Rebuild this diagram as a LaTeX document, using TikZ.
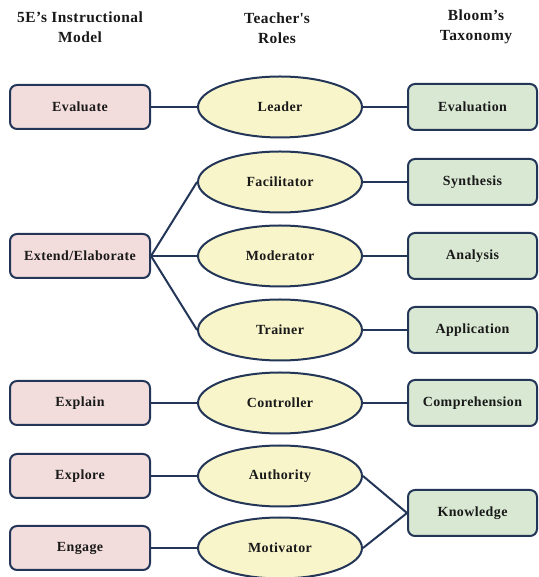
\documentclass[tikz,border=0pt]{standalone}
\usepackage{fontspec}
\setmainfont{Liberation Serif}[LetterSpace=3]
\usepackage{tikz}
\usetikzlibrary{arrows,shapes}

\definecolor{edgecol}{RGB}{36,54,88}
\definecolor{phasecol}{RGB}{242,221,220}
\definecolor{rolecol}{RGB}{249,245,203}
\definecolor{levelcol}{RGB}{217,232,210}

\begin{document}
\begin{tikzpicture}[line join=bevel,
	phase/.style={draw=edgecol,fill=phasecol,line width=2bp,rounded corners=7bp,minimum width=140bp,minimum height=44bp,font=\fontsize{14}{16}\selectfont\bfseries,text=black!90},
	role/.style={draw=edgecol,fill=rolecol,line width=2bp,ellipse,inner sep=0pt,minimum width=164bp,minimum height=61bp,font=\fontsize{14}{16}\selectfont\bfseries,text=black!90},
	level/.style={draw=edgecol,fill=levelcol,line width=2bp,rounded corners=7bp,minimum width=129bp,minimum height=46bp,font=\fontsize{14}{16}\selectfont\bfseries,text=black!90},
	head/.style={align=center,font=\fontsize{15.5}{20}\selectfont\bfseries,text=black!90},
	link/.style={draw=edgecol,line width=2bp}]
	%%
	\useasboundingbox (0bp,0bp) rectangle (539bp,577bp);
	\fill[white] (0bp,0bp) rectangle (539bp,577bp);
	%% headers
	\node (h1) at (80bp,550bp) [head] {5E’s Instructional\\Model};
	\node (h2) at (277bp,549bp) [head] {Teacher\textquotesingle s\\Roles};
	\node (h3) at (476bp,550bp) [head] {Bloom’s\\Taxonomy};
	%% 5E phases
	\node (evaluate) at (80bp,470bp) [phase] {Evaluate};
	\node (extend) at (80bp,321bp) [phase] {Extend/Elaborate};
	\node (explain) at (80bp,174bp) [phase] {Explain};
	\node (explore) at (80bp,101bp) [phase] {Explore};
	\node (engage) at (80bp,29bp) [phase] {Engage};
	%% roles
	\node (leader) at (280bp,470bp) [role] {Leader};
	\node (facil) at (280bp,395bp) [role] {Facilitator};
	\node (moder) at (280bp,321bp) [role] {Moderator};
	\node (trainer) at (280bp,247bp) [role] {Trainer};
	\node (control) at (280bp,174bp) [role] {Controller};
	\node (author) at (280bp,101bp) [role] {Authority};
	\node (motiv) at (280bp,29bp) [role] {Motivator};
	%% Bloom levels
	\node (evaluation) at (472.5bp,470bp) [level] {Evaluation};
	\node (synth) at (472.5bp,395bp) [level] {Synthesis};
	\node (analysis) at (472.5bp,321bp) [level] {Analysis};
	\node (applic) at (472.5bp,247bp) [level] {Application};
	\node (compr) at (472.5bp,174bp) [level] {Comprehension};
	\node (knowl) at (472.5bp,64bp) [level] {Knowledge};
	%% links
	\draw [link] (evaluate.east) -- (leader.west);
	\draw [link] (leader.east) -- (evaluation.west);
	\draw [link] (extend.east) -- (facil.west);
	\draw [link] (extend.east) -- (moder.west);
	\draw [link] (extend.east) -- (trainer.west);
	\draw [link] (facil.east) -- (synth.west);
	\draw [link] (moder.east) -- (analysis.west);
	\draw [link] (trainer.east) -- (applic.west);
	\draw [link] (explain.east) -- (control.west);
	\draw [link] (control.east) -- (compr.west);
	\draw [link] (explore.east) -- (author.west);
	\draw [link] (engage.east) -- (motiv.west);
	\draw [link] (author.east) -- (knowl.west);
	\draw [link] (motiv.east) -- (knowl.west);
	%
\end{tikzpicture}
\end{document}
